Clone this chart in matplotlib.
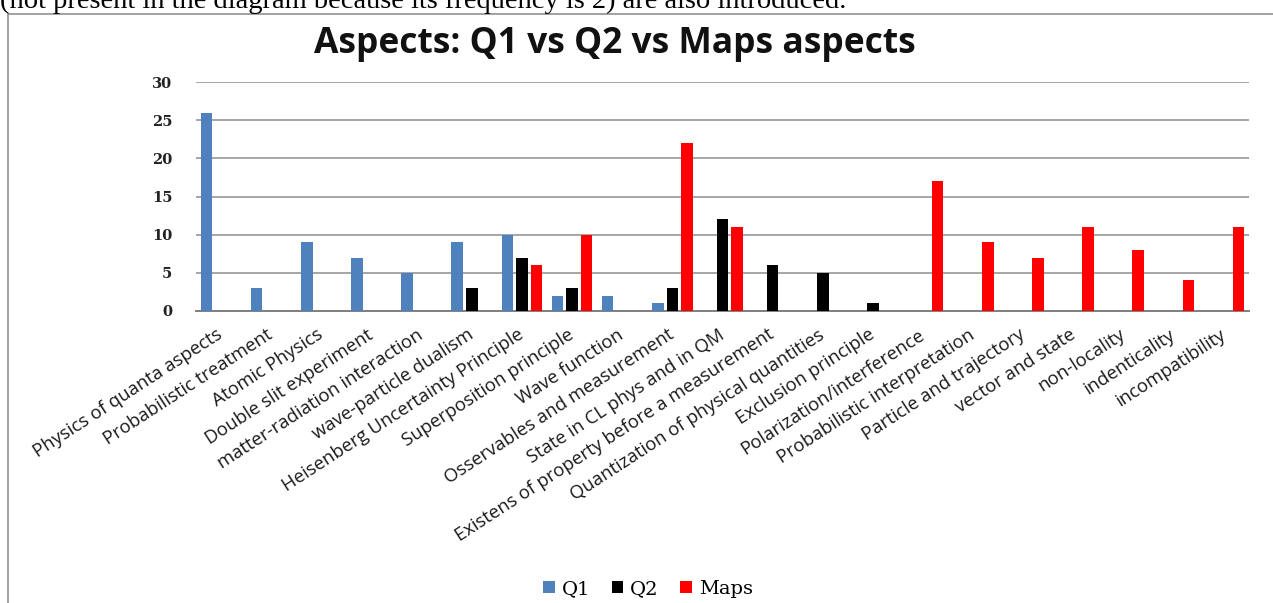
import matplotlib
matplotlib.use("Agg")
import matplotlib.pyplot as plt
from matplotlib.patches import Rectangle
import numpy as np

categories = [
    "Physics of quanta aspects", "Probabilistic treatment", "Atomic Physics",
    "Double slit experiment", "matter-radiation interaction", "wave-particle dualism",
    "Heisenberg Uncertainty Principle", "Superposition principle", "Wave function",
    "Osservables and measurement", "State in CL phys and in QM",
    "Existens of property before a measurement", "Quantization of physical quantities",
    "Exclusion principle", "Polarization/interference", "Probabilistic interpretation",
    "Particle and trajectory", "vector and state", "non-locality", "indenticality",
    "incompatibility",
]
q1 = [26, 3, 9, 7, 5, 9, 10, 2, 2, 1, 0, 0, 0, 0, 0, 0, 0, 0, 0, 0, 0]
q2 = [0, 0, 0, 0, 0, 3, 7, 3, 0, 3, 12, 6, 5, 1, 0, 0, 0, 0, 0, 0, 0]
maps = [0, 0, 0, 0, 0, 0, 6, 10, 0, 22, 11, 0, 0, 0, 17, 9, 7, 11, 8, 4, 11]
series_names = ["Q1", "Q2", "Maps"]
yticks = [0, 5, 10, 15, 20, 25, 30]
title = "Aspects: Q1 vs Q2 vs Maps aspects"
page_text = "(not present in the diagram because its frequency is 2) are also introduced."

W, H = 1273, 603
fig = plt.figure(figsize=(W / 100, H / 100), dpi=100)
fig.patch.set_facecolor("white")

# page text cut at the top
fig.text(0.0, 1 - 8 / H, page_text, family="Liberation Serif", fontsize=20.5,
         ha="left", va="baseline", color="black")

# chart border
fig.patches.append(Rectangle((8 / W, -0.05), 2.0, 1 - 14 / H + 0.05,
                             transform=fig.transFigure, fill=False,
                             edgecolor="#9a9a9a", linewidth=1.3))

ax = fig.add_axes([196 / W, 1 - 311 / H, (1249 - 196) / W, (311 - 82) / H])
x = np.arange(len(categories))
bw = 0.23
off = 0.29
colors = ["#4F81BD", "#000000", "#FF0000"]
for vals, o, c, n in zip([q1, q2, maps], [-off, 0, off], colors, series_names):
    ax.bar(x + o, vals, width=bw, color=c, label=n, zorder=3)

ax.set_xlim(-0.5, len(categories) - 0.5)
ax.set_ylim(0, 30)
ax.set_yticks(yticks)
ax.set_yticklabels([str(t) for t in yticks], family="DejaVu Serif",
                   fontweight="bold", fontsize=10.5, color="#222222")
ax.yaxis.grid(True, color="#a6a6a6", linewidth=1.4, zorder=0)
ax.set_axisbelow(True)
for s in ["top", "right", "left"]:
    ax.spines[s].set_visible(False)
ax.spines["bottom"].set_color("#7f7f7f")
ax.spines["bottom"].set_linewidth(1.4)
ax.tick_params(axis="y", length=0, pad=17)
ax.tick_params(axis="x", length=0, pad=16)
ax.set_xticks(x)
ax.set_xticklabels(categories, rotation=33, ha="right", va="center",
                   rotation_mode="anchor", family="Open Sans", fontsize=13.3,
                   color="#1a1a1a")

fig.text(615 / W, 1 - 44 / H, title, family="Open Sans", fontweight="bold",
         fontsize=25.5, ha="center", va="center", color="#111111")

handles, labels = ax.get_legend_handles_labels()
fig.legend(handles, labels, loc="center", bbox_to_anchor=(648 / W, 1 - 589 / H),
           ncol=3, frameon=False, handlelength=0.6, handleheight=0.6,
           handletextpad=0.35, columnspacing=1.1,
           prop={"family": "DejaVu Serif", "size": 14})

fig.savefig("out.png", dpi=100)
